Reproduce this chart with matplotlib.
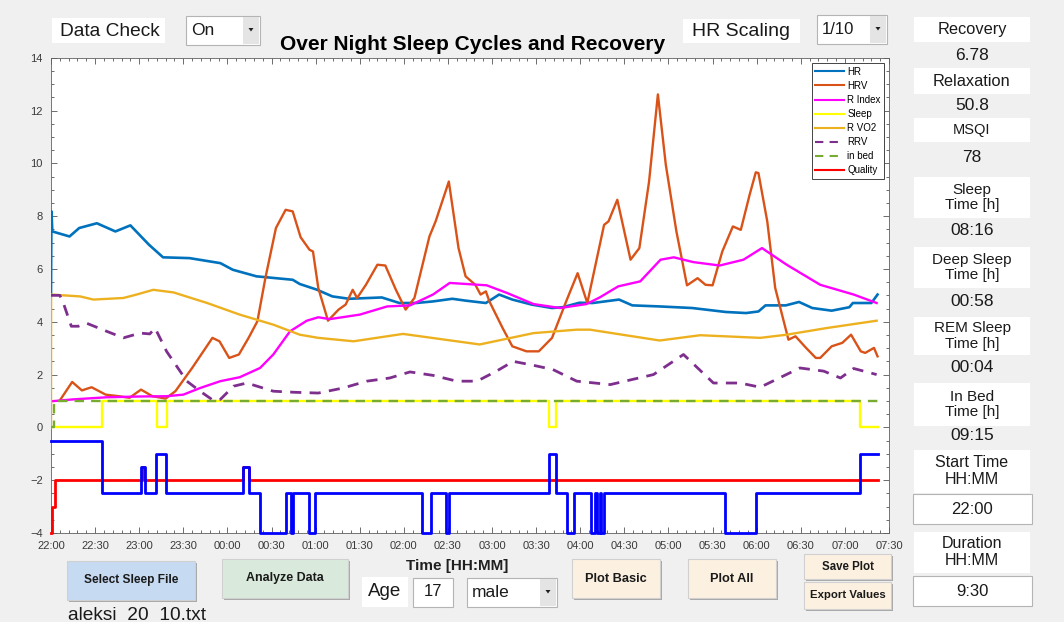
import numpy as np
import matplotlib
matplotlib.use('Agg')
import matplotlib.pyplot as plt
from matplotlib.patches import Rectangle, Polygon
from matplotlib.ticker import MultipleLocator

plt.rcParams['font.family'] = ['Liberation Sans', 'DejaVu Sans']

# ---------------- data (time in hours after 22:00) ----------------
tick_labels = ['22:00', '22:30', '23:00', '23:30', '00:00', '00:30', '01:00', '01:30',
               '02:00', '02:30', '03:00', '03:30', '04:00', '04:30', '05:00', '05:30',
               '06:00', '06:30', '07:00', '07:30']

hr_t = [0.00, 0.005, 0.015, 0.21, 0.32, 0.52, 0.73, 0.90, 1.11, 1.27, 1.57, 1.92, 2.06, 2.33,
        2.74, 2.82, 3.01, 3.19, 3.38, 3.75, 3.95, 4.14, 4.33, 4.55, 4.70, 4.93, 5.08, 5.23,
        5.45, 5.68, 5.80, 5.99, 6.14, 6.44, 6.59, 6.90, 7.27, 7.65, 7.88, 8.02, 8.10, 8.33,
        8.48, 8.63, 8.85, 9.05, 9.09, 9.30, 9.37]
hr_v = [5.0, 8.18, 7.42, 7.23, 7.55, 7.73, 7.42, 7.65, 6.92, 6.44, 6.41, 6.22, 5.97, 5.72,
        5.59, 5.43, 5.22, 4.96, 4.87, 4.92, 4.71, 4.71, 4.77, 4.87, 4.80, 4.71, 5.03, 4.84,
        4.65, 4.52, 4.55, 4.72, 4.71, 4.84, 4.62, 4.58, 4.52, 4.37, 4.33, 4.39, 4.62, 4.62,
        4.75, 4.52, 4.42, 4.55, 4.71, 4.71, 5.03]

hrv_t = [0.10, 0.24, 0.35, 0.46, 0.62, 0.77, 0.89, 1.02, 1.15, 1.30, 1.41, 1.60, 1.83, 1.91,
         2.02, 2.13, 2.24, 2.34, 2.43, 2.55, 2.66, 2.74, 2.83, 2.93, 2.97, 3.03, 3.14, 3.26,
         3.34, 3.42, 3.47, 3.57, 3.70, 3.79, 3.91, 4.02, 4.12, 4.29, 4.36, 4.51, 4.62, 4.70,
         4.81, 4.87, 4.93, 4.97, 5.12, 5.23, 5.39, 5.53, 5.68, 5.84, 5.97, 6.08, 6.27, 6.32,
         6.42, 6.57, 6.67, 6.78, 6.88, 6.97, 7.09, 7.21, 7.33, 7.42, 7.50, 7.61, 7.73, 7.82,
         7.92, 7.99, 8.02, 8.12, 8.21, 8.36, 8.44, 8.56, 8.67, 8.72, 8.85, 8.97, 9.07, 9.18,
         9.23, 9.33, 9.37]
hrv_v = [1.02, 1.72, 1.40, 1.52, 1.24, 1.18, 1.12, 1.43, 1.18, 1.09, 1.37, 2.25, 3.39, 3.26,
         2.63, 2.76, 3.39, 4.02, 5.65, 7.55, 8.24, 8.18, 7.20, 6.73, 6.66, 5.28, 4.04, 4.46,
         4.65, 5.21, 4.90, 5.40, 6.16, 6.13, 5.21, 4.46, 4.90, 7.23, 7.80, 9.31, 6.79, 5.72,
         5.40, 5.03, 5.15, 4.77, 3.76, 3.07, 2.88, 2.88, 3.39, 4.77, 5.84, 4.71, 7.67, 7.80,
         8.62, 6.35, 6.79, 9.31, 12.61, 9.94, 7.42, 5.38, 5.65, 5.40, 5.38, 6.66, 7.61, 7.48,
         8.81, 9.66, 9.63, 7.80, 5.28, 3.32, 3.45, 3.01, 2.63, 2.63, 3.07, 3.20, 3.51, 2.88,
         2.82, 3.01, 2.69]

rindex_t = [0.01, 0.25, 0.63, 1.01, 1.31, 1.50, 1.69, 1.92, 2.14, 2.37, 2.52, 2.71, 2.90,
            3.03, 3.16, 3.50, 3.81, 4.07, 4.33, 4.52, 4.94, 5.17, 5.47, 5.77, 6.07, 6.22,
            6.43, 6.68, 6.91, 7.06, 7.28, 7.58, 7.85, 8.06, 8.34, 8.72, 9.10, 9.36]
rindex_v = [0.99, 1.06, 1.14, 1.17, 1.18, 1.24, 1.49, 1.75, 1.90, 2.25, 2.76, 3.64, 4.04,
            4.17, 4.10, 4.27, 4.58, 4.62, 5.03, 5.47, 5.38, 5.09, 4.67, 4.52, 4.67, 4.92,
            5.34, 5.53, 6.35, 6.44, 6.26, 6.13, 6.35, 6.79, 6.16, 5.40, 5.03, 4.71]

sleep_t = [0.00, 0.575, 1.20, 1.31, 5.65, 5.73, 9.17, 9.38]
sleep_v = [0, 1, 0, 1, 0, 1, 0, 0]

rvo2_t = [0.00, 0.001, 0.33, 0.48, 0.82, 0.97, 1.16, 1.39, 1.77, 2.14, 2.52, 2.82, 3.03,
          3.43, 3.99, 4.86, 5.47, 5.96, 6.11, 6.90, 7.36, 8.04, 8.34, 8.79, 9.36]
rvo2_v = [0.0, 5.03, 4.96, 4.84, 4.90, 5.03, 5.21, 5.11, 4.71, 4.27, 3.89, 3.51, 3.39,
          3.26, 3.54, 3.14, 3.57, 3.70, 3.70, 3.29, 3.49, 3.39, 3.51, 3.76, 4.04]

rrv_t = [0.00, 0.10, 0.14, 0.23, 0.31, 0.40, 0.63, 0.82, 1.01, 1.12, 1.18, 1.31, 1.54, 1.69,
         1.84, 1.92, 2.07, 2.22, 2.52, 2.75, 3.03, 3.31, 3.58, 3.84, 4.07, 4.33, 4.60, 4.83,
         5.05, 5.24, 5.47, 5.69, 5.96, 6.34, 6.83, 7.17, 7.51, 7.81, 8.04, 8.49, 8.76, 8.95,
         9.10, 9.36]
rrv_v = [5.0, 5.0, 4.71, 3.83, 3.83, 3.95, 3.64, 3.39, 3.57, 3.54, 3.76, 2.88, 1.75, 1.37,
         1.02, 1.06, 1.56, 1.68, 1.37, 1.33, 1.30, 1.49, 1.75, 1.87, 2.10, 1.97, 1.75, 1.75,
         2.13, 2.50, 2.35, 2.19, 1.75, 1.62, 2.00, 2.76, 1.68, 1.68, 1.52, 2.25, 2.13, 1.87,
         2.23, 2.00]

inbed_t = [0.00, 0.03, 9.38]
inbed_v = [0, 1, 1]

quality_t = [0.00, 0.01, 0.04, 1.03, 1.05, 2.18, 2.24, 9.38]
quality_v = [-4, -3, -2, -1.5, -2, -1.5, -2, -2]

stage_t = [0.00, 0.575, 1.02, 1.06, 1.19, 1.30, 2.18, 2.24, 2.37, 2.66, 2.72, 2.74, 2.93,
           2.99, 4.21, 4.31, 4.48, 4.51, 5.65, 5.72, 5.85, 5.93, 6.12, 6.17, 6.19, 6.22,
           6.24, 6.27, 7.64, 7.99, 9.17, 9.38]
stage_v = [-0.5, -2.5, -1.5, -2.5, -1.0, -2.5, -1.5, -2.5, -4, -2.5, -4, -2.5, -4,
           -2.5, -4, -2.5, -4, -2.5, -1.0, -2.5, -4, -2.5, -4, -2.5, -4, -2.5,
           -4, -2.5, -4, -2.5, -1.0, -1.0]

panel_labels = ['Recovery', 'Relaxation', 'MSQI', 'Sleep\nTime [h]', 'Deep Sleep\nTime [h]',
                'REM Sleep\nTime [h]', 'In Bed\nTime [h]']
panel_values = ['6.78', '50.8', '78', '08:16', '00:58', '00:04', '09:15']
start_time = '22:00'
duration = '9:30'

# ---------------- figure ----------------
W, H = 1064, 622
fig = plt.figure(figsize=(W / 100, H / 100), dpi=100, facecolor='#f0f0f0')


def fx(x):
    return x / W


def fy(y):
    return 1 - y / H


def box(x0, y0, x1, y1, face='white', edge='none', lw=1.0, z=1):
    fig.add_artist(Rectangle((fx(x0), fy(y1)), (x1 - x0) / W, (y1 - y0) / H,
                             transform=fig.transFigure, facecolor=face, edgecolor=edge,
                             lw=lw, zorder=z))


def txt(x, y, s, size, weight='normal', ha='center', color='#1a1a1a'):
    fig.text(fx(x), fy(y), s, fontsize=size, fontweight=weight, ha=ha, va='center',
             color=color, linespacing=1.15, zorder=5)


def button(x0, y0, x1, y1, face, label, size):
    box(x0 + 2, y0 + 2, x1 + 2, y1 + 2, face='#a8a8a8')
    box(x0, y0, x1, y1, face=face, edge='#d0d0d0', lw=0.8)
    txt((x0 + x1) / 2, (y0 + y1) / 2, label, size, weight='bold')


def dropdown(x0, y0, x1, y1, label, size):
    box(x0, y0, x1, y1, face='white', edge='#b4b4b4', lw=0.8)
    box(x1 - 17, y0 + 1, x1 - 1, y1 - 1, face='#e4e4e4')
    ax_ = (x1 - 9)
    ay_ = (y0 + y1) / 2 - 1
    fig.add_artist(Polygon([(fx(ax_ - 2.5), fy(ay_ - 1.5)), (fx(ax_ + 2.5), fy(ay_ - 1.5)),
                            (fx(ax_), fy(ay_ + 2))], closed=True, transform=fig.transFigure,
                           facecolor='#202020', edgecolor='none', zorder=6))
    txt(x0 + 5, (y0 + y1) / 2, label, size, ha='left')


# ---------------- main axes ----------------
ax = fig.add_axes([51 / W, 1 - 533 / H, 838 / W, 475.3 / H])
ax.set_facecolor('white')

ax.plot(hr_t, hr_v, color='#0072BD', lw=1.9, label='HR', zorder=3)
ax.plot(hrv_t, hrv_v, color='#D95319', lw=1.7, label='HRV', zorder=3)
ax.plot(rindex_t, rindex_v, color='#FF00FF', lw=1.7, label='R Index', zorder=3)
ax.plot(sleep_t, sleep_v, color='#FFFF00', lw=1.7, drawstyle='steps-post', label='Sleep',
        zorder=3)
ax.plot(rvo2_t, rvo2_v, color='#EDB120', lw=1.7, label='R VO2', zorder=3)
ax.plot(rrv_t, rrv_v, color='#7E2F8E', lw=2.0, ls=(0, (4, 3)), label='RRV', zorder=3)
ax.plot(inbed_t, inbed_v, color='#77AC30', lw=1.7, ls=(0, (4, 3)), drawstyle='steps-post',
        label='in bed', zorder=3)
ax.plot(quality_t, quality_v, color='#FF0000', lw=2.0, drawstyle='steps-post',
        label='Quality', zorder=3, clip_on=False)
ax.plot(stage_t, stage_v, color='#0000FF', lw=2.0, drawstyle='steps-post', zorder=4,
        clip_on=False)

ax.set_xlim(0, 9.5)
ax.set_ylim(-4, 14)
ax.set_xticks(np.arange(len(tick_labels)) * 0.5)
ax.set_xticklabels(tick_labels)
ax.xaxis.set_minor_locator(MultipleLocator(0.1))
ax.yaxis.set_major_locator(MultipleLocator(2))
ax.yaxis.set_minor_locator(MultipleLocator(0.5))
ax.tick_params(which='both', direction='in', top=True, right=True, colors='#555555',
               labelsize=8, labelcolor='#3a3a3a', width=0.6)
ax.tick_params(which='major', length=4, pad=6)
ax.tick_params(which='minor', length=2)
for sp in ax.spines.values():
    sp.set_color('#606060')
    sp.set_linewidth(0.6)

leg = ax.legend(loc='upper right', bbox_to_anchor=(0.994, 0.988), fontsize=7,
                frameon=True, fancybox=False, edgecolor='#444444', framealpha=1,
                handlelength=3.0, labelspacing=0.42, borderpad=0.35, handletextpad=0.3,
                borderaxespad=0)
leg.get_frame().set_linewidth(0.7)
for line in leg.get_lines():
    line.set_linewidth(1.5)

# title and x label
txt(473, 44, 'Over Night Sleep Cycles and Recovery', 15, weight='bold', color='#000000')
txt(457, 566, 'Time [HH:MM]', 11, weight='bold', color='#202020')

# ---------------- top controls ----------------
box(52, 18, 165, 43)
txt(110, 31, 'Data Check', 13.8)
dropdown(186, 16, 260, 45, 'On', 12.5)
box(683, 19, 800, 43)
txt(741, 31, 'HR Scaling', 14)
dropdown(817, 15, 887, 44, '1/10', 12)

# ---------------- right panel ----------------
label_boxes = [(17, 42), (68, 94), (118, 142), (177, 218), (247, 288), (317, 355), (383, 426)]
value_y = [55, 105, 157, 230, 302, 368, 435]
label_sizes = [11.8, 11.8, 10.5, 11, 11, 11, 11]
for (y0, y1), lab, val, vy, ls in zip(label_boxes, panel_labels, panel_values, value_y,
                                      label_sizes):
    box(914, y0, 1030, y1)
    txt(972, (y0 + y1) / 2, lab, ls)
    txt(972, vy, val, 12.5)

box(914, 450, 1030, 493)
txt(972, 471, 'Start Time\nHH:MM', 11.5)
box(913, 494, 1032, 524, edge='#b4b4b4', lw=0.8)
txt(972, 509, start_time, 12)
box(914, 532, 1030, 573)
txt(972, 552, 'Duration\nHH:MM', 11.5)
box(913, 576, 1032, 606, edge='#b4b4b4', lw=0.8)
txt(972, 591, duration, 12)

# ---------------- bottom controls ----------------
button(67, 561, 195, 600, '#c6daf2', 'Select Sleep File', 8.6)
button(222, 559, 348, 598, '#d9eadc', 'Analyze Data', 8.9)
button(572, 559, 660, 598, '#fcf0e0', 'Plot Basic', 9.2)
button(688, 559, 776, 598, '#fcf0e0', 'Plot All', 9.2)
button(804, 554, 891, 579, '#fcf0e0', 'Save Plot', 8.3)
button(804, 582, 891, 609, '#fcf0e0', 'Export Values', 8.2)

box(362, 577, 408, 607)
txt(385, 591, 'Age', 13.5)
box(413, 578, 453, 607, edge='#b4b4b4', lw=0.8)
txt(433, 592, '17', 12)
dropdown(467, 578, 557, 607, 'male', 12.5)

txt(68, 615, 'aleksi  20  10.txt', 13.8, ha='left')

fig.savefig('out.png', dpi=100, facecolor=fig.get_facecolor())
